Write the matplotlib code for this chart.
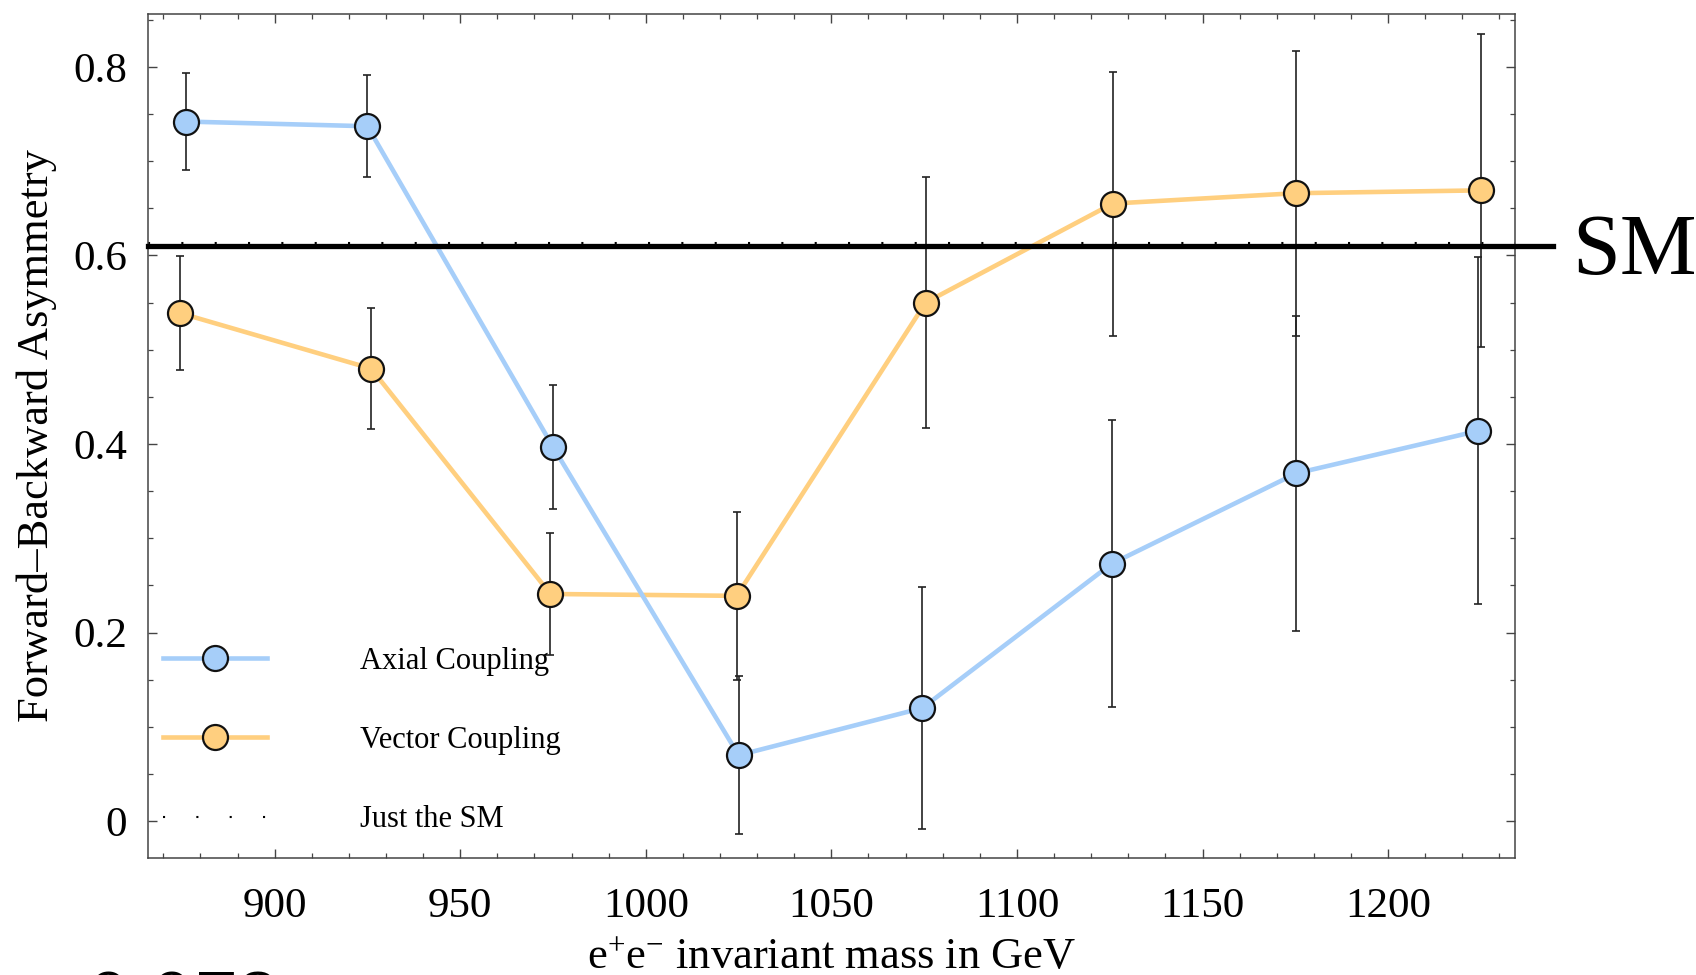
import matplotlib
matplotlib.use("Agg")
import matplotlib.pyplot as plt
from matplotlib.lines import Line2D
from matplotlib.ticker import MultipleLocator

plt.rcParams["font.family"] = ["Liberation Serif", "DejaVu Serif"]
plt.rcParams["mathtext.fontset"] = "custom"
plt.rcParams["mathtext.rm"] = "Liberation Serif"
plt.rcParams["mathtext.default"] = "rm"

# data
axial_mass = [876, 925, 975, 1025, 1074.5, 1125.5, 1175.3, 1224.3]
axial_afb = [0.742, 0.737, 0.397, 0.070, 0.120, 0.273, 0.369, 0.414]
axial_err = [0.051, 0.054, 0.066, 0.084, 0.128, 0.152, 0.167, 0.184]

vector_mass = [874.4, 926, 974.3, 1024.5, 1075.4, 1125.8, 1175.1, 1224.9]
vector_afb = [0.539, 0.480, 0.241, 0.239, 0.550, 0.655, 0.666, 0.669]
vector_err = [0.060, 0.064, 0.065, 0.089, 0.133, 0.140, 0.151, 0.166]

sm_value = 0.61
x_range = [865.9, 1234.2]
y_range = [-0.039, 0.856]
cut_text = "0.078"

BLUE = "#a6cef9"
ORANGE = "#ffcf7f"
EDGE = "#111111"

fig = plt.figure(figsize=(16.96, 9.75), dpi=100)
ax = fig.add_axes([0.0873, 0.12, 0.806, 0.8656])

# just the SM (dotted) and the heavy SM reference line
ax.plot(x_range, [sm_value + 0.003] * 2, color="black", lw=1.5,
        ls=(0, (1, 15)), zorder=1)
ax.axhline(sm_value, xmin=0, xmax=1.028, color="black", lw=3.8,
           clip_on=False, zorder=5)

for xs, ys, es in [(vector_mass, vector_afb, vector_err),
                   (axial_mass, axial_afb, axial_err)]:
    ax.errorbar(xs, ys, yerr=es, fmt="none", ecolor="#222222",
                elinewidth=1.2, capsize=3, capthick=1.2, zorder=2)

ax.plot(vector_mass, vector_afb, color=ORANGE, lw=3.3, zorder=3)
ax.plot(axial_mass, axial_afb, color=BLUE, lw=3.3, zorder=3)
ax.plot(vector_mass, vector_afb, ls="none", marker="o", ms=18,
        mfc=ORANGE, mec=EDGE, mew=1.6, zorder=6)
ax.plot(axial_mass, axial_afb, ls="none", marker="o", ms=18,
        mfc=BLUE, mec=EDGE, mew=1.6, zorder=6)

ax.set_xlim(x_range)
ax.set_ylim(y_range)
ax.xaxis.set_major_locator(MultipleLocator(50))
ax.xaxis.set_minor_locator(MultipleLocator(10))
ax.yaxis.set_major_locator(MultipleLocator(0.2))
ax.yaxis.set_minor_locator(MultipleLocator(0.05))
ax.set_yticks([0, 0.2, 0.4, 0.6, 0.8])
ax.set_yticklabels(["0", "0.2", "0.4", "0.6", "0.8"])

for s in ax.spines.values():
    s.set_color("#444444")
    s.set_linewidth(1.1)
ax.tick_params(which="both", direction="in", top=True, right=True,
               color="#444444", labelsize=31)
ax.tick_params(axis="x", which="major", length=6.5, width=1.0, pad=21)
ax.tick_params(axis="y", which="major", length=6.5, width=1.0, pad=15)
ax.tick_params(which="minor", length=3.6, width=0.9)

ax.set_xlabel("e$^{+}$e$^{-}$ invariant mass in GeV", fontsize=32, labelpad=9)
ax.set_ylabel("Forward\u2013Backward Asymmetry", fontsize=32, labelpad=12)

ax.annotate("SM", xy=(1, sm_value), xycoords=("axes fraction", "data"),
            xytext=(41, -20), textcoords="offset points", va="baseline",
            ha="left", fontsize=62, annotation_clip=False)

handles = [
    Line2D([], [], color=BLUE, lw=3.3, marker="o", ms=18, mfc=BLUE, mec=EDGE, mew=1.6),
    Line2D([], [], color=ORANGE, lw=3.3, marker="o", ms=18, mfc=ORANGE, mec=EDGE, mew=1.6),
    Line2D([], [], color="black", lw=1.5, ls=(0, (1, 15))),
]
ax.legend(handles, ["Axial Coupling", "Vector Coupling", "Just the SM"],
          loc="lower left", bbox_to_anchor=(0.0, 0.01), frameon=False,
          fontsize=22, handlelength=3.4, handletextpad=3.05,
          labelspacing=1.64, borderaxespad=0.3, borderpad=0.2)

fig.text(87 / 1696, 1 - 968 / 975, cut_text, fontsize=62, va="top", ha="left")

fig.savefig("out.png", dpi=100)
plt.close(fig)
